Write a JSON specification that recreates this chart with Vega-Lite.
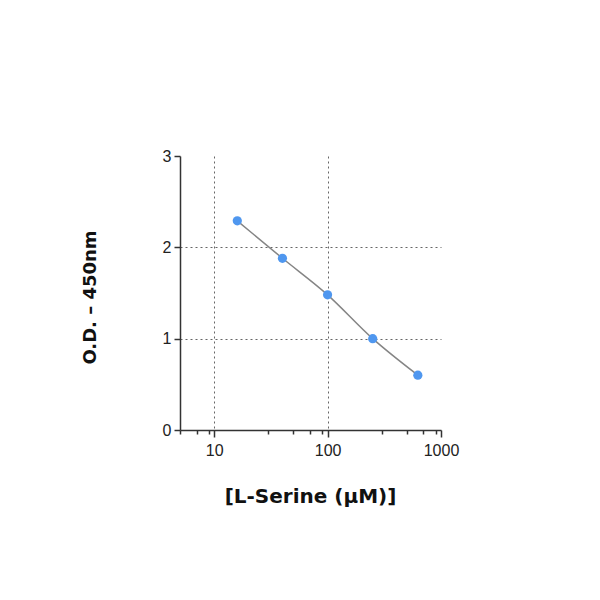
{
  "$schema": "https://vega.github.io/schema/vega-lite/v6.json",
  "width": 261,
  "height": 274,
  "autosize": {"type": "none"},
  "padding": {"left": 180, "top": 156, "right": 159, "bottom": 170},
  "background": "white",
  "config": {
    "view": {"stroke": null},
    "axis": {
      "labelColor": "#222222",
      "domainColor": "#333333",
      "domainWidth": 1.5,
      "tickColor": "#333333",
      "tickWidth": 1.5,
      "titleFont": "DejaVu Sans",
      "titleFontWeight": "bold",
      "titleColor": "#111111"
    }
  },
  "data": {
    "values": [
      {"conc": 16, "od": 2.29},
      {"conc": 40, "od": 1.88},
      {"conc": 100, "od": 1.48},
      {"conc": 250, "od": 1.0},
      {"conc": 625, "od": 0.6}
    ]
  },
  "encoding": {
    "x": {
      "field": "conc",
      "type": "quantitative",
      "scale": {"type": "log", "domain": [5, 1000], "nice": false},
      "axis": {
        "title": "[L-Serine (µM)]",
        "titleFontSize": 20,
        "titleX": 130,
        "titleY": 66,
        "titleBaseline": "middle",
        "values": [5, 7, 9, 10, 30, 50, 70, 90, 100, 300, 500, 700, 900, 1000],
        "labelExpr": "(datum.value == 10 || datum.value == 100 || datum.value == 1000) ? datum.label : ''",
        "format": "d",
        "labelFont": "Liberation Sans",
        "labelFontSize": 16,
        "labelPadding": 5,
        "labelFlush": false,
        "labelOverlap": false,
        "tickSize": {"condition": {"test": "datum.value == 10 || datum.value == 100 || datum.value == 1000", "value": 7}, "value": 4},
        "grid": true,
        "gridDash": [2, 3],
        "gridColor": "#666666",
        "gridWidth": 1,
        "gridOpacity": {"condition": {"test": "datum.value == 10 || datum.value == 100", "value": 1}, "value": 0}
      }
    },
    "y": {
      "field": "od",
      "type": "quantitative",
      "scale": {"domain": [0, 3], "nice": false},
      "axis": {
        "title": "O.D. – 450nm",
        "titleFontSize": 18,
        "titleAngle": -90,
        "titleX": -90,
        "titleY": 141,
        "titleAlign": "center",
        "titleBaseline": "middle",
        "values": [0, 1, 2, 3],
        "labelFont": "Liberation Sans",
        "labelFontSize": 16,
        "tickSize": 6,
        "labelPadding": 3,
        "grid": true,
        "gridDash": [2, 3],
        "gridColor": "#666666",
        "gridWidth": 1,
        "gridOpacity": {"condition": {"test": "datum.value == 1 || datum.value == 2", "value": 1}, "value": 0}
      }
    }
  },
  "layer": [
    {"mark": {"type": "line", "interpolate": "monotone", "color": "#858585", "strokeWidth": 1.5}},
    {"mark": {"type": "point", "filled": true, "color": "#4f97ef", "size": 85, "opacity": 1}}
  ]
}
